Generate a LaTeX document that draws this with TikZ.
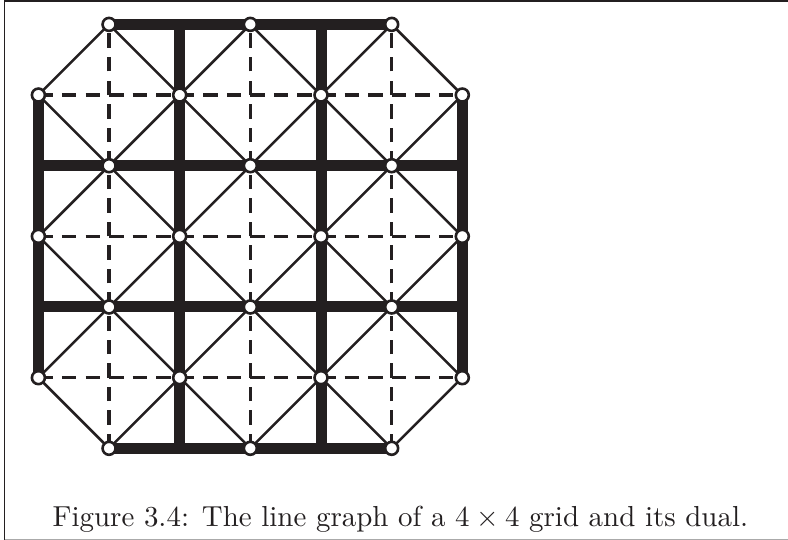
\documentclass[tikz,border=0pt]{standalone}
\usepackage{graphicx}
\usetikzlibrary{calc}
\pgfdeclarelayer{bg}
\pgfsetlayers{bg,main}
\definecolor{ink}{RGB}{35,31,32}
\definecolor{framegray}{RGB}{170,170,170}
\tikzset{
  vtx/.style={circle, draw=ink, fill=white, line width=2.6pt, minimum size=13pt, inner sep=0pt},
  thickedge/.style={draw=ink, line width=11pt},
  thinedge/.style={draw=ink, line width=2.5pt},
  dualedge/.style={draw=ink, line width=3.2pt, dash pattern=on 14.5pt off 9.05pt},
  frameline/.style={draw=ink, line width=1.2pt},
  framelinegray/.style={draw=framegray, line width=1.2pt}
}
\begin{document}
\begin{tikzpicture}[x=1pt,y=-1pt]
\useasboundingbox (0,0) rectangle (788,540);
% grid positions
\foreach \i in {0,...,6}{\foreach \j in {0,...,6}{
  \coordinate (p-\i-\j) at ({38.4+70.65*\i},{24.4+70.65*\j});}}
% line-graph vertices (edge midpoints)
\foreach \i in {1,3,5}{\foreach \j in {0,2,4,6}{
  \node[vtx] (v-\i-\j) at (p-\i-\j) {};}}
\foreach \i in {0,2,4,6}{\foreach \j in {1,3,5}{
  \node[vtx] (v-\i-\j) at (p-\i-\j) {};}}
\begin{pgfonlayer}{bg}
% dual (dashed)
\foreach \k in {1,3,5}{
  \draw[dualedge] (v-\k-6.center) -- (v-\k-0.center);
  \draw[dualedge] (v-0-\k.center) -- (v-6-\k.center);
}
% line graph diagonals
\foreach \a/\b in {1-0/0-1, 3-0/0-3, 5-0/0-5, 6-1/1-6, 6-3/3-6, 6-5/5-6,
                   0-5/1-6, 0-3/3-6, 0-1/5-6, 1-0/6-5, 3-0/6-3, 5-0/6-1}{
  \draw[thinedge] (v-\a.center) -- (v-\b.center);
}
% grid (thick)
\draw[thickedge] (v-0-1.center) -- (v-0-5.center);
\draw[thickedge] (v-6-1.center) -- (v-6-5.center);
\draw[thickedge] (v-1-0.center) -- (v-5-0.center);
\draw[thickedge] (v-1-6.center) -- (v-5-6.center);
\draw[thickedge] (p-2-0) -- (p-2-6);
\draw[thickedge] (p-4-0) -- (p-4-6);
\draw[thickedge] (p-0-2) -- (p-6-2);
\draw[thickedge] (p-0-4) -- (p-6-4);
\end{pgfonlayer}
% frame
\draw[frameline] (4.5,0) -- (4.5,540);
\draw[frameline] (4.5,1) -- (788,1);
\draw[framelinegray] (4.5,539.3) -- (788,539.3);
% caption
\node[anchor=base, inner sep=0pt, text=ink] (cap) at (400.4,526.5)
  {\scalebox{2.894}{Figure 3.4: The line graph of a $4\times 4$ grid and its dual.}};
\end{tikzpicture}
\end{document}
